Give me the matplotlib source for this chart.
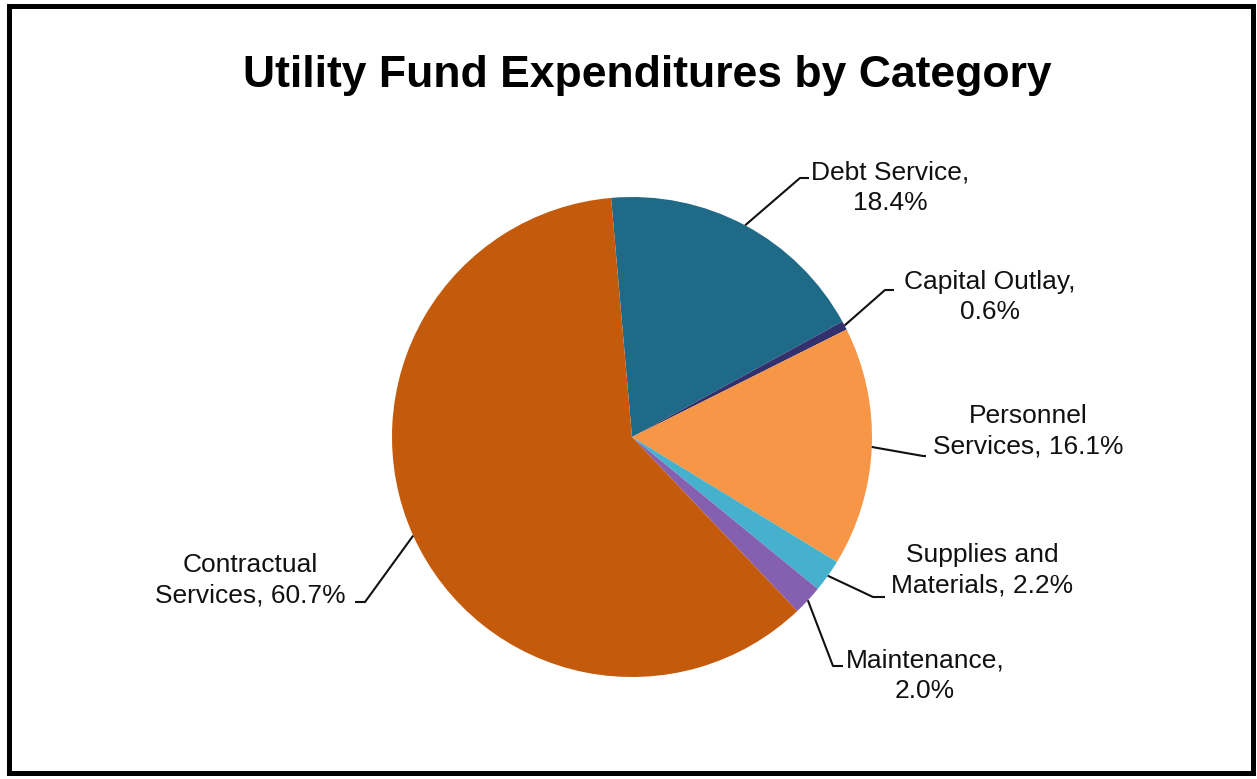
import matplotlib.pyplot as plt
from matplotlib.patches import Rectangle
import numpy as np

plt.rcParams['font.family'] = ['Liberation Sans', 'DejaVu Sans']

categories = ['Debt Service', 'Capital Outlay', 'Personnel Services',
              'Supplies and Materials', 'Maintenance', 'Contractual Services']
shares = [18.4, 0.6, 16.1, 2.2, 2.0, 60.7]
label_text = ['Debt Service,\n18.4%', 'Capital Outlay,\n0.6%', 'Personnel\nServices, 16.1%',
              'Supplies and\nMaterials, 2.2%', 'Maintenance,\n2.0%', 'Contractual\nServices, 60.7%']
colors = ['#1F6A87', '#33306E', '#F79646', '#45B1CD', '#8660B0', '#C45A0C']

W, H = 1257, 779
CX, CY, R = 632, 437, 240   # pie centre and radius in pixels

fig = plt.figure(figsize=(W / 100, H / 100), dpi=100)
ax = fig.add_axes([0, 0, 1, 1])


def px(x, y):
    # pixel position (from top-left) -> data units with the pie at the origin
    return (x - CX) / R, (CY - y) / R


wedges, _ = ax.pie(shares, colors=colors, startangle=95, counterclock=False,
                   radius=1, center=(0, 0), frame=True,
                   wedgeprops=dict(linewidth=0))
ax.set_xlim(-CX / R, (W - CX) / R)
ax.set_ylim(-(H - CY) / R, CY / R)
ax.axis('off')

# text centre, elbow of leader, end of the short horizontal
layout = [
    ((890, 188), (800, 178), (809, 178)),
    ((990, 297), (885, 290), (894, 290)),
    ((1028, 431), (923, 456), (926, 456)),
    ((982, 570), (873, 597), (885, 597)),
    ((925, 676), (833, 666), (843, 666)),
    ((250, 580), (365, 602), (355, 602)),
]

for w, txt, (tpos, elbow, end) in zip(wedges, label_text, layout):
    mid = np.deg2rad((w.theta1 + w.theta2) / 2)
    start = (np.cos(mid), np.sin(mid))
    e = px(*elbow)
    f = px(*end)
    ax.plot([start[0], e[0], f[0]], [start[1], e[1], f[1]],
            color='#111111', lw=1.5, solid_capstyle='butt', zorder=3)
    ax.text(*px(*tpos), txt, ha='center', va='center', fontsize=19,
            color='#111111', linespacing=1.36)

fig.text(647 / W, 1 - 75 / H, 'Utility Fund Expenditures by Category',
         ha='center', va='center', fontsize=32, fontweight='bold', color='#000000')

# outer frame
fig.patches.append(Rectangle((9 / W, 6 / H), 1244 / W, 767 / H, transform=fig.transFigure,
                             fill=False, edgecolor='black', linewidth=3.6))

fig.savefig('out.png', dpi=100)
